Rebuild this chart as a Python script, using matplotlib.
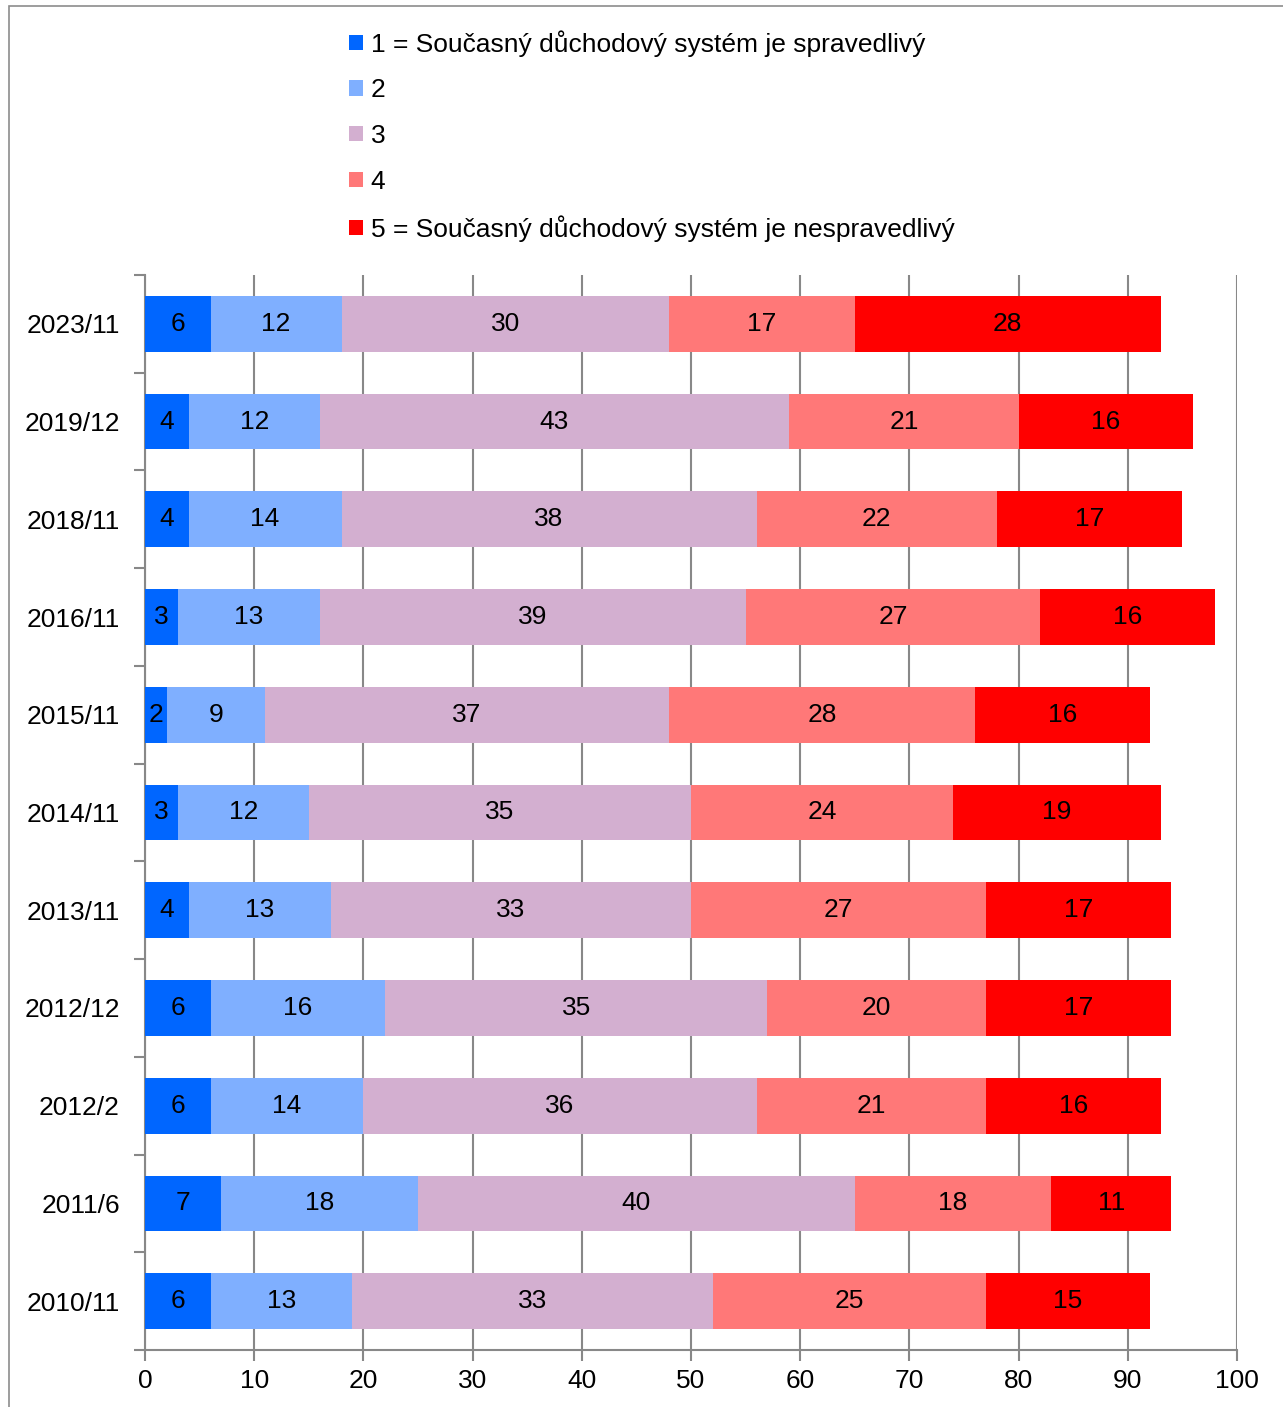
import numpy as np
import matplotlib.pyplot as plt
from matplotlib.patches import Rectangle

plt.rcParams['font.family'] = ['Liberation Sans', 'DejaVu Sans']

# data (top to bottom as in the chart)
periods = ['2023/11', '2019/12', '2018/11', '2016/11', '2015/11', '2014/11',
           '2013/11', '2012/12', '2012/2', '2011/6', '2010/11']
s1 = [6, 4, 4, 3, 2, 3, 4, 6, 6, 7, 6]
s2 = [12, 12, 14, 13, 9, 12, 13, 16, 14, 18, 13]
s3 = [30, 43, 38, 39, 37, 35, 33, 35, 36, 40, 33]
s4 = [17, 21, 22, 27, 28, 24, 27, 20, 21, 18, 25]
s5 = [28, 16, 17, 16, 16, 19, 17, 17, 16, 11, 15]

series_labels = ['1 = Současný důchodový systém je spravedlivý', '2', '3', '4',
                 '5 = Současný důchodový systém je nespravedlivý']
colors = ['#0066FF', '#7FAFFF', '#D3AFD0', '#FF7878', '#FF0000']

fig = plt.figure(figsize=(12.83, 14.07), dpi=100)
ax = fig.add_axes([145 / 1283, 1 - 1350 / 1407, 1092 / 1283, 1075 / 1407])

# outer frame
fig.patches.append(Rectangle((9 / 1283, -0.01), 1.0, 1 - 6 / 1407 + 0.01,
                             transform=fig.transFigure, fill=False,
                             edgecolor='#8c8c8c', linewidth=1.2))

y = np.arange(len(periods))[::-1]
left = np.zeros(len(periods))
for vals, lab, col in zip([s1, s2, s3, s4, s5], series_labels, colors):
    vals = np.array(vals)
    bars = ax.barh(y, vals, left=left, height=0.57, color=col, label=lab, zorder=3)
    ax.bar_label(bars, labels=[str(v) for v in vals], label_type='center',
                 fontsize=19, color='black')
    left += vals

ax.set_xlim(0, 100)
ax.set_ylim(-0.5, len(periods) - 0.5)
ax.set_xticks(np.arange(0, 101, 10))
ax.set_yticks(y)
ax.set_yticklabels(periods)
ax.set_yticks(np.arange(-0.5, len(periods), 1), minor=True)
ax.tick_params(axis='y', which='major', length=0, labelsize=19, pad=18)
ax.tick_params(axis='y', which='minor', length=8, color='#888888', width=1.5)
ax.tick_params(axis='x', length=8, color='#888888', width=1.5, labelsize=19, pad=6)
ax.xaxis.grid(True, color='#888888', linewidth=1.5, zorder=0)
ax.set_axisbelow(True)
for s in ['top', 'right']:
    ax.spines[s].set_visible(False)
for s in ['left', 'bottom']:
    ax.spines[s].set_color('#888888')
    ax.spines[s].set_linewidth(1.5)

fig.legend(loc='upper left', bbox_to_anchor=(349 / 1283, 1 - 30 / 1407),
           frameon=False, fontsize=19, handlelength=0.52, handleheight=0.52,
           handletextpad=0.3, labelspacing=0.82, borderpad=0, borderaxespad=0)

fig.savefig('out.png', dpi=100)
